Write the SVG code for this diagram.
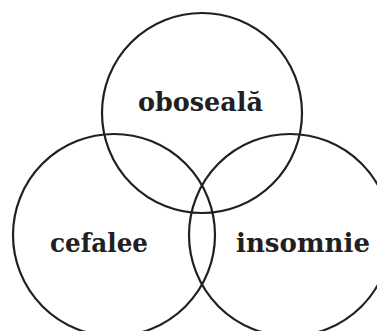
<svg xmlns="http://www.w3.org/2000/svg" width="377" height="331" viewBox="0 0 377 331">
  <style>
    .ring { fill: none; stroke: #231f20; stroke-width: 2.2; }
    .label { font-family: "DejaVu Serif", "Liberation Serif", serif; font-weight: bold; font-size: 26px; fill: #231f20; }
  </style>
  <rect width="377" height="331" fill="#ffffff"/>
  <g id="oboseala">
    <circle class="ring" cx="202" cy="113" r="100"/>
    <text class="label" x="138" y="111" textLength="125" lengthAdjust="spacingAndGlyphs">oboseală</text>
  </g>
  <g id="cefalee">
    <circle class="ring" cx="114" cy="235" r="101"/>
    <text class="label" x="50" y="252" textLength="98" lengthAdjust="spacingAndGlyphs">cefalee</text>
  </g>
  <g id="insomnie">
    <circle class="ring" cx="290" cy="235" r="101"/>
    <text class="label" x="236" y="252" textLength="134" lengthAdjust="spacingAndGlyphs">insomnie</text>
  </g>
  <g id="connectors"/>
</svg>
